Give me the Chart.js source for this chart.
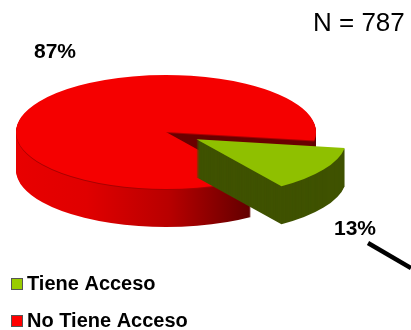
<!DOCTYPE html>
<html>
<head>
<meta charset="utf-8">
<script src="https://cdn.jsdelivr.net/npm/chart.js@4/dist/chart.umd.min.js"></script>
<style>
 html, body { margin: 0; padding: 0; background: #fff; overflow: hidden; }
 canvas { display: block; }
</style>
</head>
<body>
<canvas id="c" width="411" height="330"></canvas>
<script>
const categories = ['Tiene Acceso', 'No Tiene Acceso'];
const shares = [13, 87];
const sampleLabel = 'N = 787';

const topColors = ['#8fc000', '#f50000'];
const legendColors = ['#99cc00', '#ff0000'];

// fake 3D: squash the pie, repeat the arcs downwards for the side wall
const tilt = 0.38;
const depth = 38;
const pieX = 166, pieY = 132;
const explode = 36;

function paintArc(ctx, arc, color) {
 const saved = arc.options;
 arc.options = Object.assign({}, saved, { backgroundColor: color, borderWidth: 0 });
 arc.draw(ctx);
 arc.options = saved;
}

function place(ctx, arc, down, out) {
 const mid = (arc.startAngle + arc.endAngle) / 2;
 ctx.translate(pieX, pieY + down);
 ctx.scale(1, tilt);
 ctx.translate(Math.cos(mid) * out - arc.x, Math.sin(mid) * out - arc.y);
}

function layers(ctx, arc, out, color) {
 for (let d = depth; d >= 1; d--) {
  ctx.save();
  place(ctx, arc, d, out);
  paintArc(ctx, arc, color);
  ctx.restore();
 }
}

const pie3d = {
 id: 'pie3d',
 beforeDatasetDraw(chart, args) {
  const ctx = chart.ctx;
  const [wedge, rest] = args.meta.data;
  const r = rest.outerRadius;

  // red side, gets darker towards the cut. gradient follows the transform so it is in arc coords
  const cutX = rest.x + Math.cos(wedge.endAngle) * r;
  const grad = ctx.createLinearGradient(rest.x - r, 0, cutX, 0);
  grad.addColorStop(0, '#e80000');
  grad.addColorStop(0.3, '#e00000');
  grad.addColorStop(0.65, '#b80000');
  grad.addColorStop(1, '#620000');
  layers(ctx, rest, 0, grad);

  // inner wall seen through the gap
  ctx.save();
  ctx.save();
  place(ctx, wedge, 0, 0);
  ctx.beginPath();
  ctx.moveTo(wedge.x, wedge.y);
  ctx.arc(wedge.x, wedge.y, r, wedge.startAngle, wedge.endAngle);
  ctx.closePath();
  ctx.restore();
  ctx.clip();
  layers(ctx, rest, 0, '#6a0000');
  ctx.restore();

  // thin dark edge then red top
  ctx.save();
  place(ctx, rest, 1, 0);
  paintArc(ctx, rest, '#a80000');
  ctx.restore();
  ctx.save();
  place(ctx, rest, 0, 0);
  paintArc(ctx, rest, topColors[1]);
  ctx.restore();

  // green slice pulled out
  layers(ctx, wedge, explode, '#3f5200');
  ctx.save();
  place(ctx, wedge, 0, explode);
  paintArc(ctx, wedge, topColors[0]);
  ctx.restore();
  return false;
 },
 afterDraw(chart) {
  const ctx = chart.ctx;
  ctx.save();

  // legend boxes sit closer to the text than the library allows
  chart.legend.legendHitBoxes.forEach((box, i) => {
   ctx.fillStyle = legendColors[i];
   ctx.strokeStyle = '#555';
   ctx.lineWidth = 1;
   ctx.fillRect(box.left - 5.5, box.top + 4.5, 11, 11);
   ctx.strokeRect(box.left - 5.5, box.top + 4.5, 11, 11);
  });

  ctx.fillStyle = '#000';
  ctx.textBaseline = 'middle';
  ctx.textAlign = 'left';
  ctx.font = 'bold 21px "Liberation Sans"';
  ctx.fillText(shares[1] + '%', 34, 52);
  ctx.fillText(shares[0] + '%', 334, 229);
  ctx.font = '26px "Liberation Sans"';
  ctx.fillText(sampleLabel, 313, 24);

  // leader line running off the edge
  ctx.strokeStyle = '#000';
  ctx.lineWidth = 4.5;
  ctx.beginPath();
  ctx.moveTo(368, 243);
  ctx.lineTo(411, 268);
  ctx.stroke();
  ctx.restore();
 }
};

new Chart(document.getElementById('c'), {
 type: 'pie',
 data: {
  labels: categories,
  datasets: [{
   data: shares,
   backgroundColor: topColors,
   borderWidth: 0,
   radius: 150,
   rotation: 98.7,
   clip: false
  }]
 },
 options: {
  responsive: false,
  animation: false,
  events: [],
  layout: { padding: { bottom: -18 } },
  plugins: {
   tooltip: { enabled: false },
   legend: {
    position: 'left',
    align: 'end',
    labels: {
     boxWidth: 0,
     padding: 17,
     color: '#000',
     font: { family: '"Liberation Sans"', size: 20, weight: 'bold' }
    }
   }
  }
 },
 plugins: [pie3d]
});
</script>
</body>
</html>
